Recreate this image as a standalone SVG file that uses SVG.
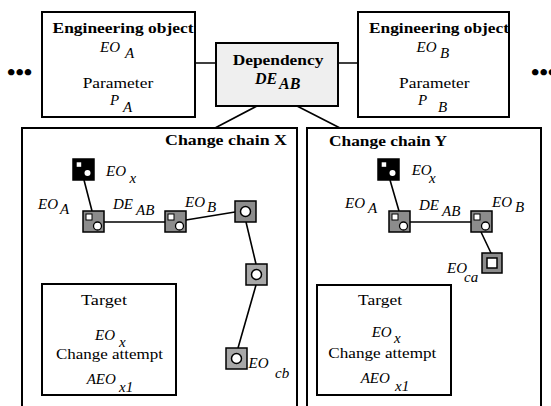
<svg xmlns="http://www.w3.org/2000/svg" xmlns:xlink="http://www.w3.org/1999/xlink" width="551" height="406" viewBox="0 0 551 406">
<style>
text{font-family:'Liberation Serif','Times New Roman',serif;font-size:15px;fill:#000}
.box{fill:#fff;stroke:#000;stroke-width:2}
.dep{fill:#efefef;stroke:#000;stroke-width:2}
.b{font-weight:bold}
.i{font-style:italic}
.bi{font-weight:bold;font-style:italic;font-size:16px}
.dots{font-size:24px;font-weight:bold}
</style>
<defs>
<g id="nSC">
<rect x="0" y="0" width="21" height="21" fill="#8c8c8c" stroke="#000" stroke-width="1.5"/>
<rect x="3" y="3" width="6" height="6" fill="#fff" stroke="#000" stroke-width="1"/>
<circle cx="14.5" cy="15" r="4" fill="#fff" stroke="#000" stroke-width="1.3"/>
</g>
<g id="nBK">
<rect x="0" y="0" width="21" height="21" fill="#000" stroke="#000" stroke-width="1.5"/>
<rect x="3.7" y="3.3" width="4.5" height="4.5" fill="#fff"/>
<circle cx="14.5" cy="14" r="3" fill="#fff"/>
</g>
<g id="nC">
<rect x="0" y="0" width="21" height="21" fill="#8c8c8c" stroke="#000" stroke-width="1.5"/>
<circle cx="10.5" cy="10.5" r="5" fill="#fff" stroke="#000" stroke-width="1.5"/>
</g>
<g id="nCL">
<rect x="0" y="0" width="21" height="21" fill="#a8a8a8" stroke="#000" stroke-width="1.5"/>
<circle cx="10.5" cy="10.5" r="5" fill="#fff" stroke="#000" stroke-width="1.5"/>
</g>
<g id="nSQ">
<rect x="0" y="0" width="20" height="20" fill="#8c8c8c" stroke="#000" stroke-width="1.5"/>
<rect x="5" y="5" width="10" height="10" fill="#fff" stroke="#000" stroke-width="1.5"/>
</g>
</defs>

<g id="chain-x">
<rect class="box" x="22" y="128" width="275" height="300"/>
<text class="b" x="165" y="145" textLength="122" lengthAdjust="spacingAndGlyphs">Change chain X</text>
</g>

<g id="chain-y">
<rect class="box" x="307" y="128" width="234" height="300"/>
<text class="b" x="329" y="146" textLength="118" lengthAdjust="spacingAndGlyphs">Change chain Y</text>
</g>

<g id="connectors">
<path stroke="#000" stroke-width="1.6" fill="none" d="M195 63H216 M338 63H358 M257 106L215 128 M297 106L340 128 M84 180L92 211 M104 222H165 M186 220L235 212 M246 222L256 264 M256 285L238 348 M390 180L399 211 M410 222H471 M481 232L491 253"/>
</g>

<g id="dots-left"><text class="dots" x="7" y="80">•••</text></g>
<g id="dots-right"><text class="dots" x="531" y="80">•••</text></g>

<g id="eo-a">
<rect class="box" x="42" y="12" width="153" height="105"/>
<text class="b" x="52.5" y="33" textLength="141" lengthAdjust="spacingAndGlyphs">Engineering object</text>
<text class="i" x="100" y="52">EO</text><text class="i" x="125" y="58">A</text>
<text x="82.7" y="88" textLength="70.5" lengthAdjust="spacingAndGlyphs">Parameter</text>
<text class="i" x="110" y="105">P</text><text class="i" x="123" y="112">A</text>
</g>

<g id="eo-b">
<rect class="box" x="358" y="12" width="151" height="105"/>
<text class="b" x="369" y="33" textLength="140" lengthAdjust="spacingAndGlyphs">Engineering object</text>
<text class="i" x="416.5" y="52">EO</text><text class="i" x="440" y="58">B</text>
<text x="399" y="88" textLength="70.5" lengthAdjust="spacingAndGlyphs">Parameter</text>
<text class="i" x="418" y="105">P</text><text class="i" x="438" y="112">B</text>
</g>

<g id="dependency">
<rect class="dep" x="216" y="43" width="122" height="63"/>
<text class="b" x="232.7" y="65" textLength="90.7" lengthAdjust="spacingAndGlyphs">Dependency</text>
<text class="bi" x="255" y="84">DE</text><text class="bi" x="279" y="89">AB</text>
</g>

<g id="x-eox">
<use xlink:href="#nBK" x="73" y="159"/>
<text class="i" x="106" y="176">EO</text><text class="i" x="129.5" y="183">x</text>
</g>
<g id="x-eoa">
<use xlink:href="#nSC" x="83" y="211"/>
<text class="i" x="38" y="209">EO</text><text class="i" x="60" y="214">A</text>
</g>
<g id="x-deab">
<text class="i" x="113" y="209">DE</text><text class="i" x="136" y="215">AB</text>
</g>
<g id="x-eob">
<use xlink:href="#nSC" x="165" y="211"/>
<text class="i" x="185" y="207">EO</text><text class="i" x="207" y="212">B</text>
</g>
<g id="x-n3"><use xlink:href="#nC" x="235" y="201"/></g>
<g id="x-n4"><use xlink:href="#nCL" x="246" y="264"/></g>
<g id="x-eocb">
<use xlink:href="#nCL" x="226" y="348"/>
<text class="i" x="248.5" y="368">EO</text><text class="i" x="275" y="378">cb</text>
</g>

<g id="y-eox">
<use xlink:href="#nBK" x="378" y="159"/>
<text class="i" x="411.7" y="175">EO</text><text class="i" x="429" y="183">x</text>
</g>
<g id="y-eoa">
<use xlink:href="#nSC" x="389" y="211"/>
<text class="i" x="345" y="208">EO</text><text class="i" x="368" y="213">A</text>
</g>
<g id="y-deab">
<text class="i" x="419" y="210">DE</text><text class="i" x="442" y="216">AB</text>
</g>
<g id="y-eob">
<use xlink:href="#nSC" x="471" y="211"/>
<text class="i" x="492" y="207">EO</text><text class="i" x="515" y="212">B</text>
</g>
<g id="y-eoca">
<use xlink:href="#nSQ" x="482" y="253"/>
<text class="i" x="447" y="272.5">EO</text><text class="i" x="464" y="282">ca</text>
</g>

<g id="target-x">
<rect class="box" x="42" y="284" width="134" height="111"/>
<text x="81" y="305" textLength="46" lengthAdjust="spacingAndGlyphs">Target</text>
<text class="i" x="95" y="340">EO</text><text class="i" x="119" y="347">x</text>
<text x="56" y="359" textLength="107" lengthAdjust="spacingAndGlyphs">Change attempt</text>
<text class="i" x="86.7" y="384">AEO</text><text class="i" x="119" y="392">x1</text>
</g>

<g id="target-y">
<rect class="box" x="317" y="285" width="134" height="110"/>
<text x="358" y="305" textLength="44" lengthAdjust="spacingAndGlyphs">Target</text>
<text class="i" x="371.7" y="337">EO</text><text class="i" x="394" y="343">x</text>
<text x="328.3" y="358" textLength="108" lengthAdjust="spacingAndGlyphs">Change attempt</text>
<text class="i" x="360.7" y="383">AEO</text><text class="i" x="395" y="391">x1</text>
</g>
</svg>
